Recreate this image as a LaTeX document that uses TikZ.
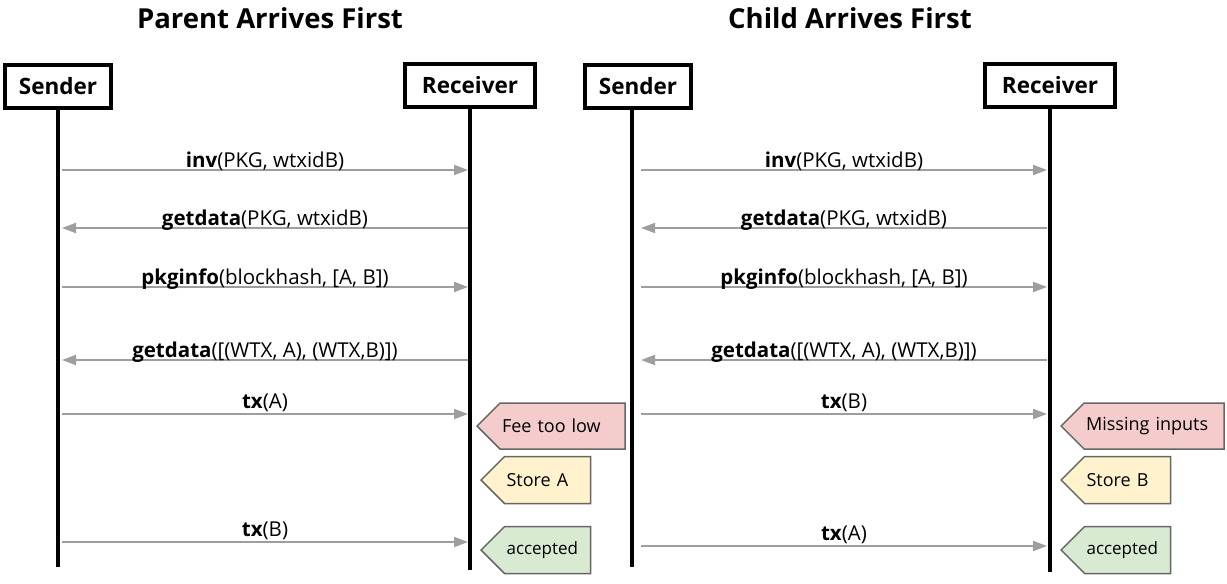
\documentclass[tikz,border=0pt]{standalone}
\usepackage{fontspec}
\setmainfont{Open Sans}
\usepackage{tikz}
\usetikzlibrary{arrows.meta,positioning,shapes.symbols}
\definecolor{gris}{HTML}{9E9E9E}
\definecolor{borde}{HTML}{666666}
\definecolor{rojo}{HTML}{F4CCCC}
\definecolor{amarillo}{HTML}{FFF2CC}
\definecolor{verde}{HTML}{D9EAD3}
\newcommand{\msgname}[1]{\textbf{#1}}

\begin{document}
\begin{tikzpicture}[x=1pt,y=-1pt,
  actor/.style={draw,line width=4pt,fill=white,font=\fontsize{22.5}{26}\selectfont\bfseries,minimum height=43pt},
  life/.style={line width=4pt},
  msg/.style={draw=gris,line width=2pt,-{Triangle[length=14pt,width=10pt]}},
  etq/.style={font=\fontsize{20.5}{24}\selectfont,inner sep=0pt,anchor=base,midway,yshift=3pt},
  nota/.style={signal,signal to=west,draw=borde,line width=1.5pt,minimum height=46pt,inner xsep=2pt,align=left,text width=#1,anchor=west,font=\fontsize{18}{21}\selectfont},
  titulo/.style={font=\fontsize{27.5}{32}\selectfont\bfseries}]
\useasboundingbox (0,0) rectangle (1227,584);
% titles
\node[titulo] (t1) at (270,18) {Parent Arrives First};
\node[titulo] (t2) at (850,18) {Child Arrives First};
% lifelines
\coordinate (ls0) at (58,110); \coordinate (ls1) at (58,567);
\coordinate (lr0) at (470,108); \coordinate (lr1) at (470,570);
\coordinate (rs0) at (632,110); \coordinate (rs1) at (632,567);
\coordinate (rr0) at (1050,108); \coordinate (rr1) at (1050,572);
\draw[life] (ls0)--(ls1); \draw[life] (lr0)--(lr1);
\draw[life] (rs0)--(rs1); \draw[life] (rr0)--(rr1);
\node[actor,minimum width=106pt] (ls) at (58,86) {Sender};
\node[actor,minimum width=130pt] (lr) at (470,85) {Receiver};
\node[actor,minimum width=106pt] (rs) at (638,86) {Sender};
\node[actor,minimum width=130pt] (rr) at (1050,85) {Receiver};
% rows
\coordinate (m1) at (0,170); \coordinate (m2) at (0,228); \coordinate (m3) at (0,287);
\coordinate (m4) at (0,360); \coordinate (m5) at (0,414); \coordinate (m6) at (0,542);
\coordinate (m7) at (0,546);
% parent first
\draw[msg] ([xshift=4pt]ls0|-m1) -- node[etq] (a1) {\msgname{inv}(PKG, wtxidB)} ([xshift=-2pt]lr0|-m1);
\draw[msg] ([xshift=-2pt]lr0|-m2) -- node[etq] (a2) {\msgname{getdata}(PKG, wtxidB)} ([xshift=4pt]ls0|-m2);
\draw[msg] ([xshift=4pt]ls0|-m3) -- node[etq] (a3) {\msgname{pkginfo}(blockhash, [A, B])} ([xshift=-2pt]lr0|-m3);
\draw[msg] ([xshift=-2pt]lr0|-m4) -- node[etq] (a4) {\msgname{getdata}([(WTX, A), (WTX,B)])} ([xshift=4pt]ls0|-m4);
\draw[msg] ([xshift=4pt]ls0|-m5) -- node[etq,yshift=3pt] (a5) {\msgname{tx}(A)} ([xshift=-2pt]lr0|-m5);
\draw[msg] ([xshift=4pt]ls0|-m6) -- node[etq,yshift=3pt] (a6) {\msgname{tx}(B)} ([xshift=-2pt]lr0|-m6);
\node[nota=121pt,fill=rojo] (n1) at (476,426) {Fee too low};
\node[nota=82pt,fill=amarillo,minimum height=47pt] (n2) at (480,480) {Store A};
\node[nota=82pt,fill=verde,minimum height=47pt,font=\fontsize{17}{20}\selectfont] (n3) at (480,550) {accepted};
% child first
\draw[msg] ([xshift=9pt]rs0|-m1) -- node[etq] (b1) {\msgname{inv}(PKG, wtxidB)} ([xshift=-3pt]rr0|-m1);
\draw[msg] ([xshift=-3pt]rr0|-m2) -- node[etq] (b2) {\msgname{getdata}(PKG, wtxidB)} ([xshift=9pt]rs0|-m2);
\draw[msg] ([xshift=9pt]rs0|-m3) -- node[etq] (b3) {\msgname{pkginfo}(blockhash, [A, B])} ([xshift=-3pt]rr0|-m3);
\draw[msg] ([xshift=-3pt]rr0|-m4) -- node[etq] (b4) {\msgname{getdata}([(WTX, A), (WTX,B)])} ([xshift=9pt]rs0|-m4);
\draw[msg] ([xshift=9pt]rs0|-m5) -- node[etq,yshift=3pt] (b5) {\msgname{tx}(B)} ([xshift=-3pt]rr0|-m5);
\draw[msg] ([xshift=9pt]rs0|-m7) -- node[etq,yshift=3pt] (b6) {\msgname{tx}(A)} ([xshift=-3pt]rr0|-m7);
\node[nota=136pt,fill=rojo] (n4) at (1060,426) {Missing inputs};
\node[nota=82pt,fill=amarillo,minimum height=47pt] (n5) at (1060,480) {Store B};
\node[nota=82pt,fill=verde,minimum height=47pt,font=\fontsize{17}{20}\selectfont] (n6) at (1060,550) {accepted};
\end{tikzpicture}
\end{document}
